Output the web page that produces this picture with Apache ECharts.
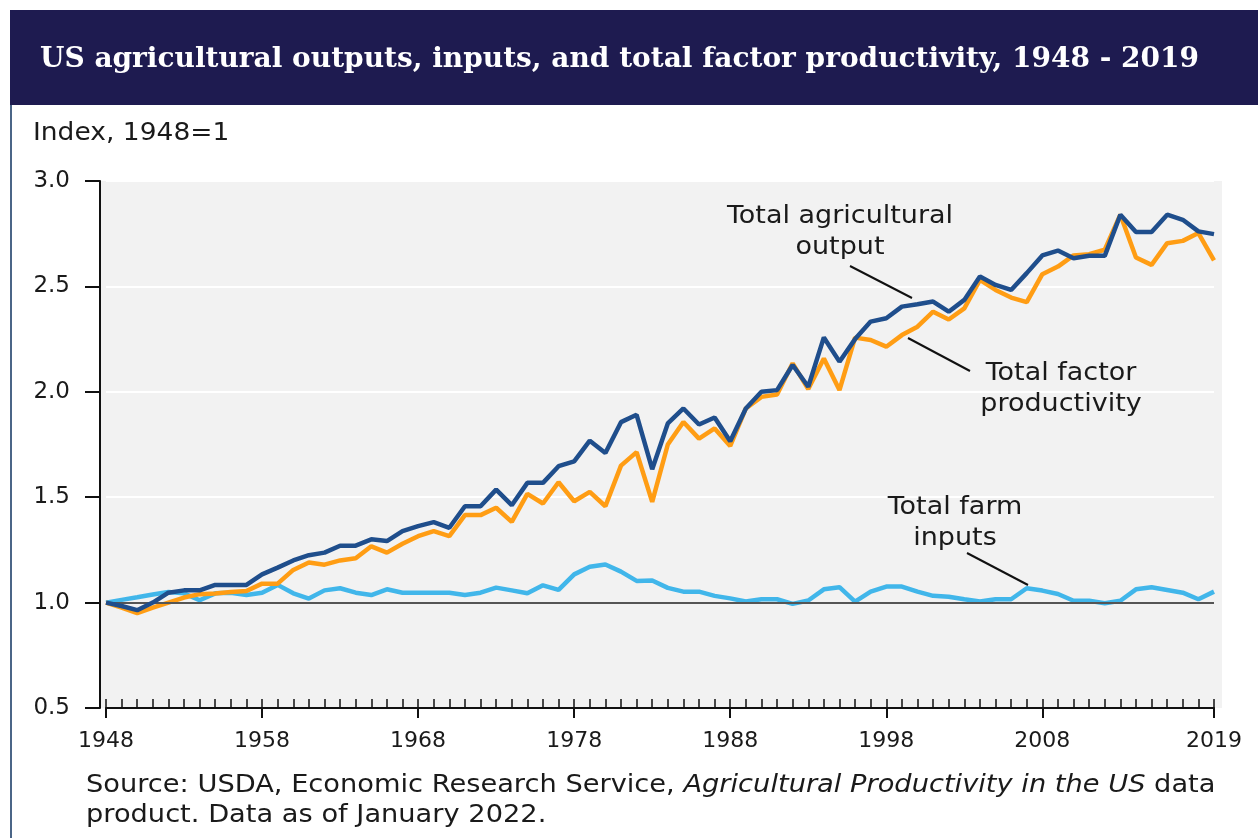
<!DOCTYPE html>
<html>
<head>
<meta charset="utf-8">
<script src="https://cdn.jsdelivr.net/npm/echarts@6/dist/echarts.min.js"></script>
<style>
  html, body { margin: 0; padding: 0; background: #fff; }
  #chart { width: 1258px; height: 838px; }
</style>
</head>
<body>
<div id="chart"></div>
<script>
// 1948 - 2019
const years = [];
for (let y = 1948; y <= 2019; y++) years.push(String(y));

const outputIdx = [
  1.00, 0.984, 0.964, 1.00, 1.047, 1.058, 1.058, 1.084, 1.084, 1.084,
  1.134, 1.166, 1.20, 1.225, 1.237, 1.27, 1.27, 1.30, 1.292, 1.339,
  1.363, 1.382, 1.355, 1.457, 1.457, 1.536, 1.462, 1.568, 1.568, 1.647,
  1.670, 1.768, 1.710, 1.856, 1.891, 1.633, 1.850, 1.921, 1.845, 1.878,
  1.765, 1.921, 2.00, 2.008, 2.127, 2.024, 2.258, 2.143, 2.25, 2.333,
  2.349, 2.404, 2.415, 2.428, 2.38, 2.436, 2.547, 2.507, 2.483, 2.563,
  2.647, 2.67, 2.634, 2.645, 2.645, 2.84, 2.758, 2.758, 2.84, 2.816,
  2.761, 2.748
];

const tfpIdx = [
  1.00, 0.976, 0.95, 0.976, 1.00, 1.024, 1.04, 1.043, 1.05, 1.055,
  1.09, 1.09, 1.155, 1.19, 1.18, 1.20, 1.21, 1.267, 1.237, 1.279,
  1.315, 1.339, 1.315, 1.415, 1.415, 1.45, 1.383, 1.516, 1.47, 1.571,
  1.481, 1.525, 1.457, 1.65, 1.714, 1.478, 1.75, 1.857, 1.778, 1.826,
  1.743, 1.921, 1.976, 1.987, 2.135, 2.013, 2.158, 2.008, 2.257, 2.246,
  2.214, 2.269, 2.309, 2.38, 2.343, 2.396, 2.531, 2.483, 2.447, 2.425,
  2.558, 2.594, 2.647, 2.653, 2.674, 2.84, 2.637, 2.602, 2.705, 2.716,
  2.753, 2.623
];

const inputsIdx = [
  1.00, 1.013, 1.025, 1.038, 1.05, 1.044, 1.011, 1.044, 1.047, 1.036,
  1.047, 1.084, 1.044, 1.019, 1.058, 1.068, 1.047, 1.036, 1.063, 1.047,
  1.047, 1.047, 1.047, 1.036, 1.047, 1.071, 1.058, 1.044, 1.082, 1.06,
  1.134, 1.17, 1.181, 1.147, 1.103, 1.105, 1.07, 1.052, 1.052, 1.032,
  1.02, 1.005, 1.016, 1.016, 0.994, 1.01, 1.063, 1.073, 1.005, 1.052,
  1.076, 1.076, 1.052, 1.032, 1.028, 1.016, 1.005, 1.016, 1.016, 1.068,
  1.057, 1.041, 1.009, 1.009, 0.997, 1.009, 1.063, 1.073, 1.06, 1.047,
  1.016, 1.052
];

const yTicks = [0.5, 1.0, 1.5, 2.0, 2.5, 3.0];
// labelled years on the x axis
const labelYears = ['1948', '1958', '1968', '1978', '1988', '1998', '2008', '2019'];

const FONT = '"DejaVu Sans", sans-serif';
const TXT = '#1a1a1a';

const chart = echarts.init(document.getElementById('chart'));

const majorTick = (i) => labelYears.indexOf(years[i]) >= 0;

// centred two-line annotation
const note = (text, x, y) => ({
  type: 'text', x: x, y: y, z: 100, scaleX: 1.08,
  style: {
    text: text, fill: TXT, font: '25px ' + FONT,
    align: 'center', verticalAlign: 'middle', lineHeight: 31
  }
});
const leader = (x1, y1, x2, y2) => ({
  type: 'line', z: 100, shape: { x1, y1, x2, y2 }, style: { stroke: '#111', lineWidth: 2 }
});

chart.setOption({
  animation: false,
  backgroundColor: '#fff',
  grid: { left: 106, right: 44, top: 181, bottom: 130 },
  xAxis: [
    {
      type: 'category',
      data: years,
      boundaryGap: false,
      position: 'bottom',
      axisLine: { lineStyle: { color: '#111', width: 2 } },
      axisTick: { interval: majorTick, length: 10, lineStyle: { color: '#111', width: 2 } },
      axisLabel: { interval: majorTick, margin: 22, fontSize: 22, color: TXT, fontFamily: FONT },
      splitLine: { show: false }
    },
    {
      type: 'category',
      data: years,
      boundaryGap: false,
      position: 'bottom',
      axisLine: { show: false },
      axisTick: { interval: 0, inside: true, length: 9, lineStyle: { color: '#111', width: 1.5 } },
      axisLabel: { show: false },
      splitLine: { show: false }
    }
  ],
  yAxis: {
    type: 'value',
    min: yTicks[0],
    max: yTicks[yTicks.length - 1],
    interval: 0.5,
    offset: 6,
    axisLine: { show: true, lineStyle: { color: '#111', width: 2 } },
    axisTick: { show: true, length: 15, lineStyle: { color: '#111', width: 2 } },
    axisLabel: {
      margin: 30, fontSize: 23, color: TXT, fontFamily: FONT,
      formatter: (v) => v.toFixed(1)
    },
    splitLine: { lineStyle: { color: '#fff', width: 2 } }
  },
  graphic: [
    { type: 'rect', z: -10, shape: { x: 100, y: 181, width: 1122, height: 527 }, style: { fill: '#f2f2f2' } },
    { type: 'rect', shape: { x: 10, y: 10, width: 1248, height: 95 }, style: { fill: '#1e1b50' } },
    { type: 'line', shape: { x1: 11, y1: 105, x2: 11, y2: 838 }, style: { stroke: '#4b6587', lineWidth: 2 } },
    {
      type: 'text', x: 40, y: 60,
      style: {
        text: 'US agricultural outputs, inputs, and total factor productivity, 1948 - 2019',
        fill: '#fff', font: 'bold 28px "DejaVu Serif", serif', verticalAlign: 'middle'
      }
    },
    {
      type: 'text', x: 33, y: 133, scaleX: 1.06,
      style: { text: 'Index, 1948=1', fill: TXT, font: '25px ' + FONT, verticalAlign: 'middle' }
    },
    note('Total agricultural\noutput', 840, 232),
    leader(850, 266, 912, 298),
    note('Total factor\nproductivity', 1061, 389),
    leader(908, 338, 970, 371),
    note('Total farm\ninputs', 955, 523),
    leader(967, 553, 1028, 585),
    // source note
    {
      type: 'text', x: 86, y: 800, scaleX: 1.09,
      style: {
        text: 'Source: USDA, Economic Research Service, {i|Agricultural Productivity in the US} data\nproduct. Data as of January 2022.',
        fill: TXT, font: '25px ' + FONT, verticalAlign: 'middle', lineHeight: 30,
        rich: { i: { fontStyle: 'italic', fontSize: 25, fontFamily: FONT, fill: TXT } }
      }
    }
  ],
  series: [
    {
      type: 'line', data: [], z: 1, silent: true,
      markLine: {
        silent: true, symbol: 'none', label: { show: false },
        lineStyle: { color: '#555', width: 2, type: 'solid' },
        data: [{ yAxis: 1.0 }]
      }
    },
    {
      name: 'Total farm inputs', type: 'line', data: inputsIdx, z: 3,
      showSymbol: false, lineStyle: { color: '#41b6ea', width: 4.5 }
    },
    {
      name: 'Total factor productivity', type: 'line', data: tfpIdx, z: 4,
      showSymbol: false, lineStyle: { color: '#ff9d14', width: 4.5 }
    },
    {
      name: 'Total agricultural output', type: 'line', data: outputIdx, z: 5,
      showSymbol: false, lineStyle: { color: '#1f4e8c', width: 4.5 }
    }
  ]
});
</script>
</body>
</html>
